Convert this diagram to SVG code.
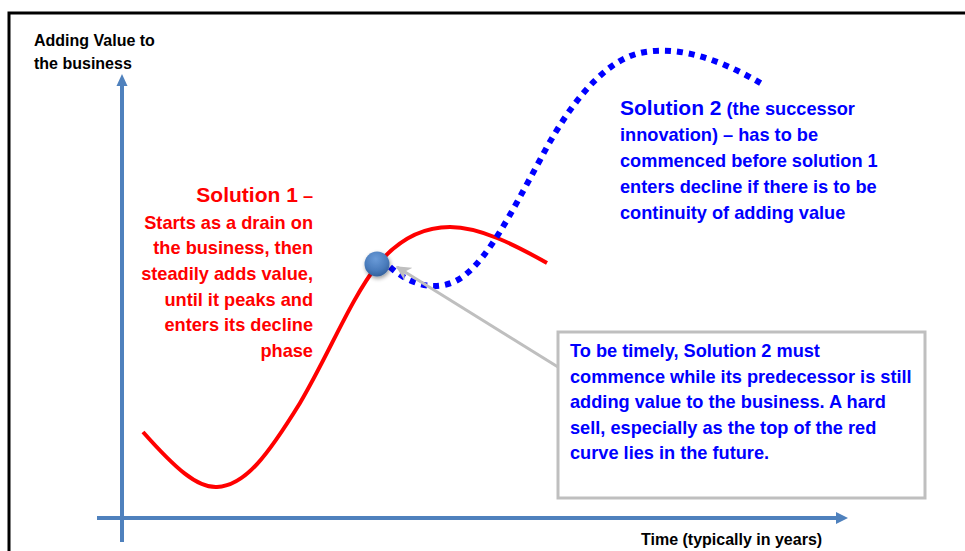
<svg xmlns="http://www.w3.org/2000/svg" width="965" height="551" viewBox="0 0 965 551">
  <style>
    text { font-family: "Liberation Sans", Arial, sans-serif; font-weight: bold; }
    .axis { stroke: #4F81BD; stroke-width: 4; fill: none; }
    .axis-head { fill: #4F81BD; }
    .label { font-size: 16px; fill: #000; }
    .red { fill: #FF0000; font-size: 18.2px; }
    .blue { fill: #0000FF; font-size: 18.2px; }
    .big { font-size: 21px; }
  </style>
  <defs>
    <radialGradient id="ballFill" cx="0.45" cy="0.3" r="0.75">
      <stop offset="0" stop-color="#6A9BD8"/>
      <stop offset="0.6" stop-color="#4A7CBC"/>
      <stop offset="1" stop-color="#2F5C96"/>
    </radialGradient>
    <filter id="softShadow" x="-50%" y="-50%" width="200%" height="200%">
      <feGaussianBlur in="SourceAlpha" stdDeviation="2"/>
      <feOffset dx="1" dy="2"/>
      <feComponentTransfer><feFuncA type="linear" slope="0.4"/></feComponentTransfer>
      <feMerge><feMergeNode/><feMergeNode in="SourceGraphic"/></feMerge>
    </filter>
    <marker id="grayHead" viewBox="0 0 10 10" refX="9" refY="5" markerWidth="5" markerHeight="5" orient="auto-start-reverse" markerUnits="strokeWidth">
      <path d="M0,0 L10,5 L0,10 L3,5 Z" fill="#BFBFBF"/>
    </marker>
  </defs>

  <rect width="965" height="551" fill="#FFFFFF"/>
  <!-- outer frame, runs past the right and bottom edges -->
  <rect x="9" y="13" width="1000" height="600" fill="none" stroke="#000" stroke-width="3"/>

  <!-- axes -->
  <g id="axes">
    <line class="axis" x1="122" y1="542" x2="122" y2="84"/>
    <polygon class="axis-head" points="116.5,86 127.5,86 122,74"/>
    <line class="axis" x1="97" y1="518" x2="838" y2="518"/>
    <polygon class="axis-head" points="836,512 836,524 848,518"/>
    <text class="label" x="34" y="46">Adding Value to</text>
    <text class="label" x="34" y="69">the business</text>
    <text class="label" x="641" y="545">Time (typically in years)</text>
  </g>

  <!-- curves -->
  <g id="curve-solution1">
    <path d="M143,432 C175,468 197,488 217,487 C245,486 268,455 300,403 C330,352 350,300 378,264 C400,238 425,227 450,227 C480,227 515,245 547,263" fill="none" stroke="#FF0000" stroke-width="4"/>
  </g>
  <g id="curve-solution2">
    <path d="M390,267 C410,285 440,295 465,275 C490,255 510,215 540,160 C565,112 600,62 640,53 C680,44 725,62 762,84" fill="none" stroke="#0000FF" stroke-width="6" stroke-dasharray="6 6"/>
  </g>

  <!-- connectors -->
  <g id="connectors">
    <line x1="558" y1="367" x2="397" y2="267" stroke="#BFBFBF" stroke-width="3" marker-end="url(#grayHead)"/>
  </g>

  <g id="node-start">
    <circle cx="377" cy="264" r="12.5" fill="url(#ballFill)" filter="url(#softShadow)"/>
  </g>

  <g id="note-solution1" text-anchor="end">
    <text class="red" x="313" y="202"><tspan class="big">Solution 1</tspan> –</text>
    <text class="red" x="313" y="229">Starts as a drain on</text>
    <text class="red" x="313" y="254">the business, then</text>
    <text class="red" x="313" y="280">steadily adds value,</text>
    <text class="red" x="313" y="306">until it peaks and</text>
    <text class="red" x="313" y="331">enters its decline</text>
    <text class="red" x="313" y="357">phase</text>
  </g>

  <g id="note-solution2">
    <text class="blue" x="620" y="115"><tspan class="big">Solution 2</tspan> (the successor</text>
    <text class="blue" x="620" y="141">innovation) – has to be</text>
    <text class="blue" x="620" y="167">commenced before solution 1</text>
    <text class="blue" x="620" y="193">enters decline if there is to be</text>
    <text class="blue" x="620" y="219">continuity of adding value</text>
  </g>

  <g id="note-timing">
    <rect x="558" y="332" width="367" height="166" fill="#FFFFFF" stroke="#BFBFBF" stroke-width="3"/>
    <text class="blue" x="570" y="357">To be timely, Solution 2 must</text>
    <text class="blue" x="570" y="383">commence while its predecessor is still</text>
    <text class="blue" x="570" y="408">adding value to the business. A hard</text>
    <text class="blue" x="570" y="434">sell, especially as the top of the red</text>
    <text class="blue" x="570" y="459">curve lies in the future.</text>
  </g>
</svg>
